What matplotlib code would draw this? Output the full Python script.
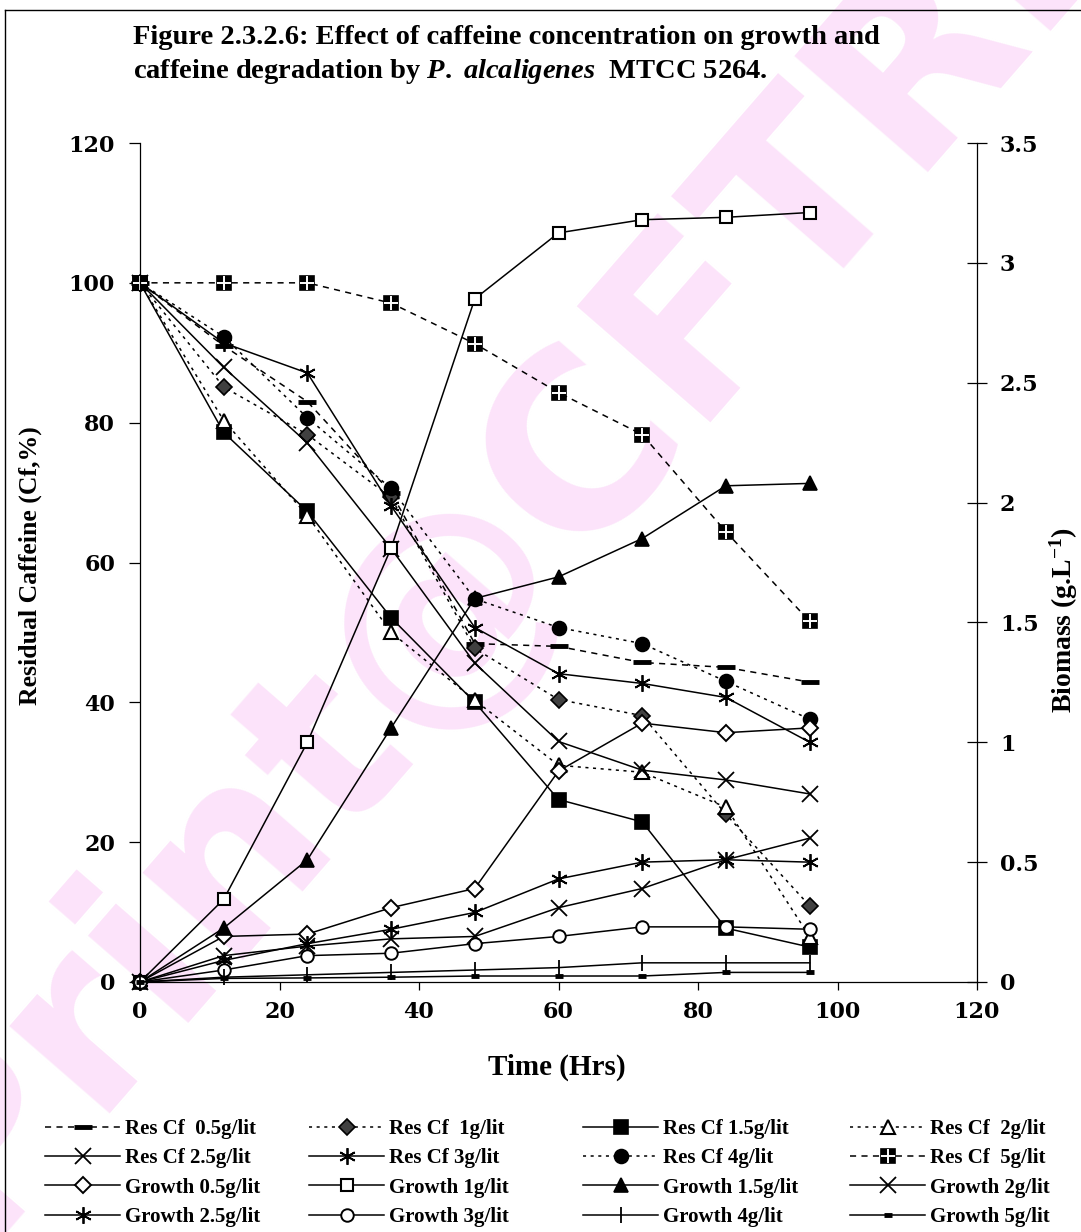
import matplotlib
matplotlib.use('Agg')
import matplotlib.pyplot as plt
from matplotlib.lines import Line2D
from matplotlib.font_manager import FontProperties
from matplotlib.legend_handler import HandlerTuple

# sampling times (hrs)
time = [0, 12, 24, 36, 48, 60, 72, 84, 96]

# residual caffeine (%), left axis
res_05 = [100, 91, 83, 70, 48.4, 48, 45.7, 45, 42.9]
res_1 = [100, 85.1, 78.3, 69.3, 47.7, 40.4, 38.1, 24, 10.9]
res_15 = [100, 78.6, 67.3, 52.1, 40, 26.1, 22.9, 7.7, 5]
res_2 = [100, 80.3, 66.7, 50, 40.3, 31, 30, 25, 6.5]
res_25 = [100, 87.9, 77.1, 62, 45.6, 34.4, 30.3, 28.9, 26.9]
res_3 = [100, 91.4, 87.1, 68.1, 50.7, 44.1, 42.7, 40.7, 34.3]
res_4 = [100, 92.3, 80.7, 70.6, 54.8, 50.7, 48.4, 43, 37.6]
res_5 = [100, 100, 100, 97.1, 91.3, 84.3, 78.3, 64.4, 51.6]

# biomass (g/L), right axis
g_05 = [0, 0.19, 0.2, 0.31, 0.39, 0.88, 1.08, 1.04, 1.06]
g_1 = [0, 0.345, 1.0, 1.81, 2.85, 3.125, 3.18, 3.19, 3.21]
g_15 = [0, 0.225, 0.51, 1.06, 1.6, 1.69, 1.85, 2.07, 2.08]
g_2 = [0, 0.11, 0.15, 0.18, 0.19, 0.31, 0.39, 0.51, 0.6]
g_25 = [0, 0.09, 0.16, 0.22, 0.29, 0.43, 0.5, 0.51, 0.5]
g_3 = [0, 0.05, 0.11, 0.12, 0.16, 0.19, 0.23, 0.23, 0.22]
g_4 = [0, 0.02, 0.03, 0.04, 0.05, 0.06, 0.08, 0.08, 0.08]
g_5 = [0, 0.015, 0.017, 0.02, 0.025, 0.025, 0.025, 0.04, 0.04]

x_ticks = [0, 20, 40, 60, 80, 100, 120]
res_ticks = [0, 20, 40, 60, 80, 100, 120]
bio_ticks = [0, 0.5, 1, 1.5, 2, 2.5, 3, 3.5]
bio_tick_labels = ['0', '0.5', '1', '1.5', '2', '2.5', '3', '3.5']

plt.rcParams['font.family'] = 'Liberation Serif'
plt.rcParams['font.weight'] = 'bold'
plt.rcParams['mathtext.fontset'] = 'custom'
plt.rcParams['mathtext.rm'] = 'Liberation Serif:bold'
plt.rcParams['mathtext.it'] = 'Liberation Serif:italic:bold'
plt.rcParams['mathtext.bf'] = 'Liberation Serif:bold'

W, H = 1081, 1232
fig = plt.figure(figsize=(W / 100, H / 100), dpi=100)
fig.patch.set_facecolor('white')

# watermark behind everything
fig.text(480 / W, 1 - 560 / H, 'Print@CFTRI', rotation=49, fontsize=175, color='#fce3fa',
         ha='center', va='center', family='DejaVu Sans', weight='bold', zorder=-5)

# frame around the figure
fig.add_artist(Line2D([5 / W, 5 / W], [0, 1 - 10 / H], transform=fig.transFigure, color='black', lw=1))
fig.add_artist(Line2D([5 / W, 1], [1 - 10 / H, 1 - 10 / H], transform=fig.transFigure, color='black', lw=1))

ax = fig.add_axes([140 / W, 1 - 982 / H, 837 / W, 839 / H])
ax.set_facecolor('none')
ax2 = ax.twinx()

dotted = (0, (2, 3))
dashed = (0, (4, 3.5))


def draw(axis, y, label, ls, marker, mfc, ms, mew=1.2):
    line, = axis.plot(time, y, color='black', lw=1.1, ls=ls, marker=marker, mfc=mfc,
                      mec='black', ms=ms, mew=mew, clip_on=False, label=label)
    return line


asterisk = (6, 2, 0)

h = []
h.append(draw(ax, res_05, 'Res Cf  0.5g/lit', dashed, '_', 'black', 13, 3.5))
h.append(draw(ax, res_1, 'Res Cf  1g/lit', dotted, 'D', '#404040', 8))
h.append(draw(ax, res_15, 'Res Cf 1.5g/lit', '-', 's', 'black', 10))
h.append(draw(ax, res_2, 'Res Cf  2g/lit', dotted, '^', 'white', 10, 1.5))
h.append(draw(ax, res_25, 'Res Cf 2.5g/lit', '-', 'x', 'none', 11, 1.3))
h.append(draw(ax, res_3, 'Res Cf 3g/lit', '-', asterisk, 'none', 12, 1.3))
h.append(draw(ax, res_4, 'Res Cf 4g/lit', dotted, 'o', 'black', 10))
sq5 = draw(ax, res_5, 'Res Cf  5g/lit', dashed, 's', 'black', 10)
cross5, = ax.plot(time, res_5, ls='none', marker='+', mec='white', ms=10, mew=1.4, clip_on=False)
h.append((sq5, cross5))

h.append(draw(ax2, g_05, 'Growth 0.5g/lit', '-', 'D', 'white', 8, 1.4))
h.append(draw(ax2, g_1, 'Growth 1g/lit', '-', 's', 'white', 8, 1.5))
h.append(draw(ax2, g_15, 'Growth 1.5g/lit', '-', '^', 'black', 10))
h.append(draw(ax2, g_2, 'Growth 2g/lit', '-', 'x', 'none', 11, 1.3))
h.append(draw(ax2, g_25, 'Growth 2.5g/lit', '-', asterisk, 'none', 12, 1.3))
h.append(draw(ax2, g_3, 'Growth 3g/lit', '-', 'o', 'white', 9, 1.4))
h.append(draw(ax2, g_4, 'Growth 4g/lit', '-', '|', 'none', 12, 1.3))
h.append(draw(ax2, g_5, 'Growth 5g/lit', '-', '_', 'black', 6, 3.5))

labels = ['Res Cf  0.5g/lit', 'Res Cf  1g/lit', 'Res Cf 1.5g/lit', 'Res Cf  2g/lit',
          'Res Cf 2.5g/lit', 'Res Cf 3g/lit', 'Res Cf 4g/lit', 'Res Cf  5g/lit',
          'Growth 0.5g/lit', 'Growth 1g/lit', 'Growth 1.5g/lit', 'Growth 2g/lit',
          'Growth 2.5g/lit', 'Growth 3g/lit', 'Growth 4g/lit', 'Growth 5g/lit']

ax.set_xlim(0, 120)
ax.set_ylim(0, 120)
ax2.set_ylim(0, 3.5)
ax.set_xticks(x_ticks)
ax.set_yticks(res_ticks)
ax2.set_yticks(bio_ticks)
ax2.set_yticklabels(bio_tick_labels)

for a in (ax, ax2):
    a.spines['top'].set_visible(False)
    for s in a.spines.values():
        s.set_linewidth(0.9)
ax.spines['right'].set_visible(False)
ax2.spines['left'].set_visible(False)
ax2.spines['bottom'].set_visible(False)

ax.tick_params(axis='x', direction='out', length=6, width=0.9, pad=8)
ax.tick_params(axis='y', direction='out', length=8, width=0.9, pad=10)
ax2.tick_params(axis='y', direction='inout', length=15, width=0.9, pad=9)

tick_font = FontProperties(family='DejaVu Serif', weight='bold', size=16)
for lab in ax.get_xticklabels() + ax.get_yticklabels() + ax2.get_yticklabels():
    lab.set_fontproperties(tick_font)

# title
fig.text(133 / W, 1 - 44 / H, 'Figure 2.3.2.6: Effect of caffeine concentration on growth and',
         fontsize=20.5, ha='left', va='baseline')
fig.text(133 / W, 1 - 78 / H, r'caffeine degradation by $\mathit{P.\ alcaligenes}$  MTCC 5264.',
         fontsize=20.5, ha='left', va='baseline')

# axis labels
fig.text(557 / W, 1 - 1067 / H, 'Time (Hrs)', fontsize=21, ha='center', va='center')
fig.text(30 / W, 1 - 566 / H, 'Residual Caffeine (Cf,%)', fontsize=18.5, rotation=90,
         ha='center', va='center')
fig.text(1064 / W, 1 - 620 / H, r'Biomass (g.L$^{\mathbf{-1}}$)', fontsize=20, rotation=90,
         ha='center', va='center')

# legend, four columns filled row by row
col_x = [45, 309, 583, 850]
for c in range(4):
    idx = [r * 4 + c for r in range(4)]
    fig.legend([h[i] for i in idx], [labels[i] for i in idx], loc='upper left',
               bbox_to_anchor=(col_x[c] / W, 1 - 1119 / H), frameon=False, fontsize=15,
               handlelength=3.6, handletextpad=0.25, labelspacing=0.45, borderpad=0,
               borderaxespad=0, handler_map={tuple: HandlerTuple(ndivide=1)})

fig.savefig('out.png', dpi=100)
